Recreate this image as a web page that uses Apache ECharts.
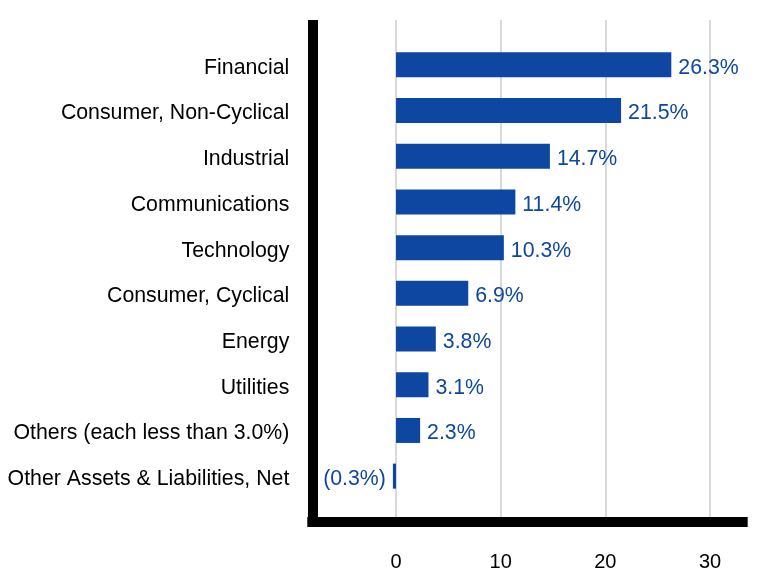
<!DOCTYPE html>
<html>
<head>
<meta charset="utf-8">
<script src="https://cdn.jsdelivr.net/npm/echarts@6/dist/echarts.min.js"></script>
<style>
html,body{margin:0;padding:0;background:#fff;}
#c{width:780px;height:588px;}
</style>
</head>
<body>
<div id="c"></div>
<script>
var categories = ['Financial','Consumer, Non-Cyclical','Industrial','Communications','Technology','Consumer, Cyclical','Energy','Utilities','Others (each less than 3.0%)','Other Assets & Liabilities, Net'];
var values = [26.3, 21.5, 14.7, 11.4, 10.3, 6.9, 3.8, 3.1, 2.3, -0.3];

var FONT = "'Liberation Sans', Arial, sans-serif";
var BLUE = '#0d47a1';
var XMIN = -8, XMAX = 33.12;

function fmtLabel(v) {
  return v < 0 ? '(' + Math.abs(v).toFixed(1) + '%)' : v.toFixed(1) + '%';
}

var barData = values.map(function (v) {
  return { value: v, label: { position: v < 0 ? 'left' : 'right' } };
});

var chart = echarts.init(document.getElementById('c'));
chart.setOption({
  animation: false,
  backgroundColor: '#fff',
  grid: [
    { left: 312.3, right: 37.3, top: 20, bottom: 66.3 },
    { left: 312.3, right: 37.3, top: 42, height: 457 }
  ],
  xAxis: [
    {
      gridIndex: 0, type: 'value', min: XMIN, max: XMAX, splitNumber: 4,
      axisLine: { show: true, onZero: false, lineStyle: { color: '#000', width: 10, cap: 'square' } },
      axisTick: { show: false },
      axisLabel: {
        color: '#000', fontSize: 20, fontFamily: FONT, margin: 31,
        showMinLabel: false, showMaxLabel: false,
        formatter: function (v) { return (Math.abs(v % 10) < 1e-9) ? String(v) : ''; }
      },
      splitLine: { show: true, showMinLine: false, showMaxLine: false, lineStyle: { color: '#d9d9d9', width: 2 } }
    },
    { gridIndex: 1, type: 'value', min: XMIN, max: XMAX, show: false }
  ],
  yAxis: [
    {
      gridIndex: 0, type: 'value', min: 0, max: 1,
      axisLine: { show: true, onZero: false, lineStyle: { color: '#000', width: 10, cap: 'butt' } },
      axisTick: { show: false }, axisLabel: { show: false }, splitLine: { show: false }
    },
    {
      gridIndex: 1, type: 'category', data: categories, inverse: true,
      axisLine: { show: false }, axisTick: { show: false },
      axisLabel: {
        color: '#000', fontSize: 21.3, fontFamily: FONT, margin: 23,
        formatter: function (v) { return '{c|' + v + '}'; },
        rich: { c: { color: '#000', fontSize: 21.3, fontFamily: FONT, padding: [6, 0, 0, 0] } }
      }
    }
  ],
  series: [{
    type: 'bar', xAxisIndex: 1, yAxisIndex: 1,
    data: barData, barWidth: 25,
    itemStyle: { color: BLUE },
    label: {
      show: true, color: BLUE, fontSize: 21.3, fontFamily: FONT, distance: 7,
      offset: [0, 3],
      formatter: function (p) { return fmtLabel(p.value); }
    }
  }]
});
</script>
</body>
</html>
